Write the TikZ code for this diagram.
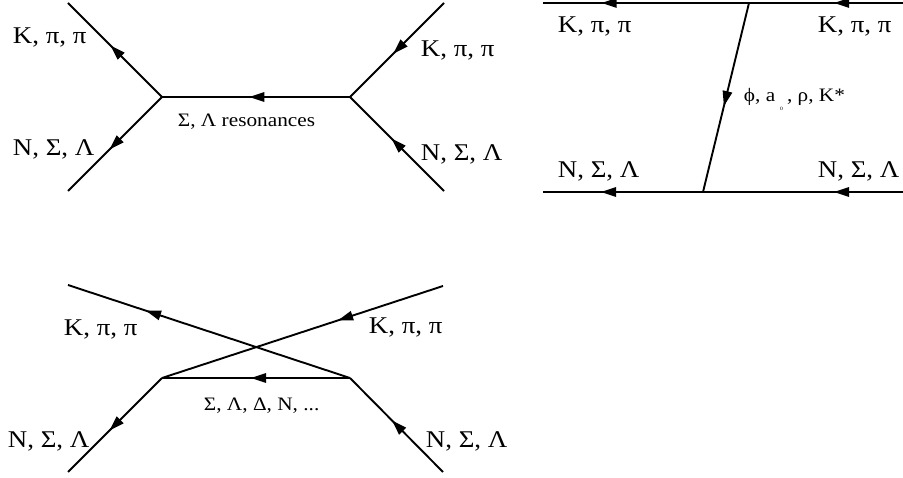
\documentclass[tikz,border=0pt]{standalone}
\usepackage{fontspec}
\setmainfont{Liberation Serif}
\newfontfamily\labfont[FakeStretch=1.12]{Liberation Serif}
\usetikzlibrary{decorations.markings}
\begin{document}
\begin{tikzpicture}[x=1pt,y=-1pt,line width=1.9pt,
  lab/.style={font=\labfont\fontsize{24}{24}\selectfont,inner sep=0pt,anchor=base west},
  slab/.style={font=\labfont\fontsize{19}{19}\selectfont,inner sep=0pt,anchor=base west},
  arr/.style={postaction={decorate},decoration={markings,mark=at position #1 with {\fill (1pt,0pt) -- (-14pt,5pt) -- (-14pt,-5pt) -- cycle;}}}]
\useasboundingbox (0,0) rectangle (903,478);
% ---------- top-left: s-channel ----------
\coordinate (a1) at (162,97);
\coordinate (a2) at (350,97);
\coordinate (a1u) at (68,3);
\coordinate (a1d) at (68,191);
\coordinate (a2u) at (444,3);
\coordinate (a2d) at (444,191);
\draw[arr=0.54] (a1) -- (a1u);
\draw[arr=0.55] (a1) -- (a1d);
\draw[arr=0.53] (a2) -- (a1);
\draw[arr=0.53] (a2u) -- (a2);
\draw[arr=0.55] (a2d) -- (a2);
\node[lab] (l1) at (12,44) {K, π, π};
\node[lab] (l2) at (12,156) {N, Σ, Λ};
\node[lab] (l3) at (420,57) {K, π, π};
\node[lab] (l4) at (420,161) {N, Σ, Λ};
\node[slab] (l5) at (177,127) {Σ, Λ resonances};
% ---------- top-right: t-channel ----------
\coordinate (t0) at (543,3);
\coordinate (t1) at (749,3);
\coordinate (t2) at (903,3);
\coordinate (b0) at (543,192);
\coordinate (b1) at (703,192);
\coordinate (b2) at (903,192);
\draw[arr=0.44] (t2) -- (t1);
\draw[arr=0.71] (t1) -- (t0);
\draw[arr=0.34] (b2) -- (b1);
\draw[arr=0.63] (b1) -- (b0);
\draw[arr=0.54] (t1) -- (b1);
\node[lab] (m1) at (557,33) {K, π, π};
\node[lab] (m2) at (817,33) {K, π, π};
\node[lab] (m3) at (557,178) {N, Σ, Λ};
\node[lab] (m4) at (817,178) {N, Σ, Λ};
\node[slab] (m5) at (743,102) {ϕ, a\hspace{5pt}\raisebox{-9pt}{\fontsize{5}{5}\selectfont 0}\hspace{4pt}, ρ, K*};
% ---------- bottom-left: u-channel ----------
\coordinate (c1) at (162,378);
\coordinate (c2) at (350,378);
\coordinate (cu1) at (68,285);
\coordinate (cu2) at (443,286);
\coordinate (cd1) at (68,472);
\coordinate (cd2) at (443,472);
\draw[arr=0.72] (c2) -- (cu1);
\draw[arr=0.37] (cu2) -- (c1);
\draw[arr=0.52] (c2) -- (c1);
\draw[arr=0.55] (c1) -- (cd1);
\draw[arr=0.54] (cd2) -- (c2);
\node[lab] (n1) at (63,336) {K, π, π};
\node[lab] (n2) at (368,334) {K, π, π};
\node[lab] (n3) at (7,448) {N, Σ, Λ};
\node[lab] (n4) at (425,448) {N, Σ, Λ};
\node[slab] (n5) at (203,411) {Σ, Λ, Δ, N, ...};
\end{tikzpicture}
\end{document}
